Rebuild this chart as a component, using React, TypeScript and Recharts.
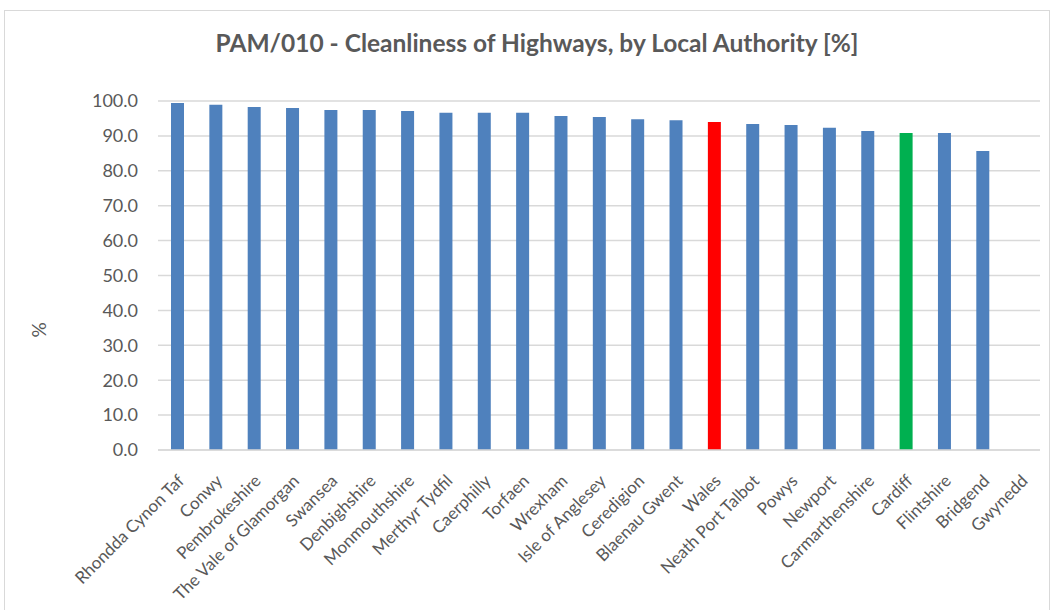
import { BarChart, Bar, XAxis, YAxis, CartesianGrid, Cell } from "recharts";

const authorities = [
  "Rhondda Cynon Taf", "Conwy", "Pembrokeshire", "The Vale of Glamorgan", "Swansea",
  "Denbighshire", "Monmouthshire", "Merthyr Tydfil", "Caerphilly", "Torfaen",
  "Wrexham", "Isle of Anglesey", "Ceredigion", "Blaenau Gwent", "Wales",
  "Neath Port Talbot", "Powys", "Newport", "Carmarthenshire", "Cardiff",
  "Flintshire", "Bridgend", "Gwynedd",
];

const cleanliness: (number | null)[] = [
  99.4, 98.9, 98.3, 98.0, 97.4,
  97.4, 97.1, 96.6, 96.6, 96.6,
  95.7, 95.4, 94.8, 94.5, 94.0,
  93.4, 93.1, 92.3, 91.4, 90.8,
  90.8, 85.7, null,
];

const yTicks = [0, 10, 20, 30, 40, 50, 60, 70, 80, 90, 100];

const highlight: Record<string, string> = { Wales: "#ff0000", Cardiff: "#00b050" };

const data = authorities.map((name, i) => ({ name, value: cleanliness[i] }));

const font = "Lato, 'Open Sans', sans-serif";

function AngledTick({ x, y, payload }: any) {
  return (
    <g transform={`translate(${x + 8},${y + 24})`}>
      <text
        x={0}
        y={0}
        textAnchor="end"
        transform="rotate(-45)"
        fill="#595959"
        fontSize={17}
        fontFamily={font}
      >
        {payload.value}
      </text>
    </g>
  );
}

// "%" sits lower than the plot's middle in the original
function PercentLabel() {
  return (
    <text
      x={0}
      y={0}
      transform="translate(46,330) rotate(-90)"
      textAnchor="middle"
      fill="#595959"
      fontSize={19}
      fontFamily={font}
    >
      %
    </text>
  );
}

export default function App() {
  return (
    <div style={{ position: "absolute", left: 0, top: 0, width: 1053, height: 610, background: "#fff", overflow: "hidden" }}>
      <div
        style={{
          position: "absolute",
          left: 4,
          top: 10,
          width: 1044,
          height: 620,
          border: "1px solid #d9d9d9",
        }}
      />
      <div
        style={{
          position: "absolute",
          left: 0,
          top: 28,
          width: 1074,
          textAlign: "center",
          fontFamily: font,
          fontWeight: 700,
          fontSize: 24.5,
          color: "#595959",
        }}
      >
        PAM/010 - Cleanliness of Highways, by Local Authority [%]
      </div>
      <div style={{ position: "absolute", left: 0, top: 0 }}>
        <BarChart
          width={1053}
          height={610}
          data={data}
          margin={{ top: 101, right: 13, bottom: 10, left: 0 }}
        >
          <CartesianGrid vertical={false} stroke="#d9d9d9" strokeWidth={1.5} />
          <XAxis
            dataKey="name"
            interval={0}
            height={150}
            tick={<AngledTick />}
            tickLine={false}
            axisLine={{ stroke: "#d9d9d9", strokeWidth: 1.5 }}
          />
          <YAxis
            width={158}
            domain={[0, 100]}
            ticks={yTicks}
            tickFormatter={(v) => Number(v).toFixed(1)}
            axisLine={false}
            tickLine={false}
            tickMargin={14}
            tick={{ fill: "#595959", fontSize: 18, fontFamily: font }}
            label={<PercentLabel />}
          />
          <Bar dataKey="value" barSize={13} isAnimationActive={false}>
            {data.map((d) => (
              <Cell key={d.name} fill={highlight[d.name] ?? "#4f81bd"} />
            ))}
          </Bar>
        </BarChart>
      </div>
    </div>
  );
}
